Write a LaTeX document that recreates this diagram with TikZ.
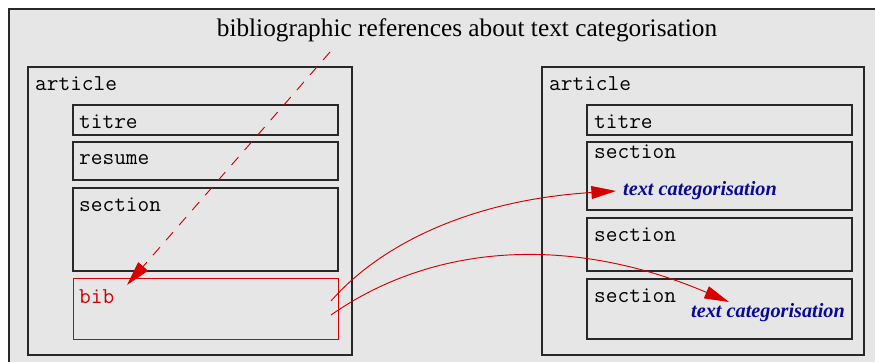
\documentclass[tikz,border=0pt]{standalone}
\usepackage{fontspec}
\setmainfont{Liberation Serif}
\usetikzlibrary{arrows.meta}
\definecolor{bggray}{RGB}{230,230,230}
\definecolor{boxline}{RGB}{40,40,40}
\definecolor{linkred}{RGB}{215,0,0}
\definecolor{catblue}{RGB}{10,10,150}

\begin{document}
\begin{tikzpicture}[x=0.03cm, y=-0.03cm, >={Triangle[length=21pt,width=11pt]},
  artbox/.style={draw=boxline, line width=0.95pt, rectangle, minimum width=9.72cm, minimum height=8.64cm},
  elbox/.style={draw=boxline, line width=0.95pt, rectangle, minimum width=7.95cm},
  tag/.style={anchor=west, font=\fontsize{19.4}{22}\selectfont\ttfamily},
  cat/.style={anchor=west, text=catblue, font=\fontsize{17.3}{20}\selectfont\bfseries\itshape},
  link/.style={draw=linkred, line width=0.8pt, ->}]
  \useasboundingbox (0,0) rectangle (875,361);
  % panel
  \draw[fill=bggray, draw=boxline, line width=0.9pt] (9,9) rectangle (890,380);
  \node[font=\fontsize{21.6}{24}\selectfont] (title) at (467,30) {bibliographic references about text categorisation};

  % left article
  \node[artbox] (artL) at (190,211) {};
  \node[tag] (artL-l) at (31,84) {article};
  \node[elbox, minimum height=0.9cm] (titreL) at (205.5,120) {};
  \node[tag] (titreL-l) at (75,122) {titre};
  \node[elbox, minimum height=1.14cm] (resumeL) at (205.5,161) {};
  \node[tag] (resumeL-l) at (75,160) {resume};
  \node[elbox, minimum height=2.49cm] (secL) at (205.5,229.5) {};
  \node[tag] (secL-l) at (75,205) {section};
  \node[elbox, draw=linkred, line width=0.6pt, minimum height=1.83cm] (bib) at (205.5,308.5) {};
  \node[tag, text=linkred] (bib-l) at (75,297) {bib};

  % right article
  \node[artbox, minimum width=9.66cm] (artR) at (703,211) {};
  \node[tag] (artR-l) at (545,84) {article};
  \node[elbox, minimum height=0.9cm] (titreR) at (719.5,120) {};
  \node[tag] (titreR-l) at (590,122) {titre};
  \node[elbox, minimum height=2.04cm] (secA) at (719.5,176) {};
  \node[tag] (secA-l) at (590,152) {section};
  \node[cat] (tc1) at (619,191) {text categorisation};
  \node[elbox, minimum height=1.59cm] (secB) at (719.5,244.5) {};
  \node[tag] (secB-l) at (590,235) {section};
  \node[elbox, minimum height=1.8cm] (secC) at (719.5,309) {};
  \node[tag] (secC-l) at (590,296) {section};
  \node[cat] (tc2) at (687,313) {text categorisation};

  % links
  \coordinate (dstart) at (330,52);
  \coordinate (bibout1) at (331,301);
  \coordinate (bibout2) at (331,315);
  \coordinate (tc1-in) at (616,191);
  \coordinate (bib-in) at (127,285);
  \coordinate (tc2-in) at (729,302);
  \draw[link, dash pattern=on 9pt off 8pt] (dstart) -- (bib-in);
  \draw[link] (bibout1) .. controls (380,245) and (470,200) .. (tc1-in);
  \draw[link] (bibout2) .. controls (440,239) and (579,238) .. (tc2-in);
\end{tikzpicture}
\end{document}
